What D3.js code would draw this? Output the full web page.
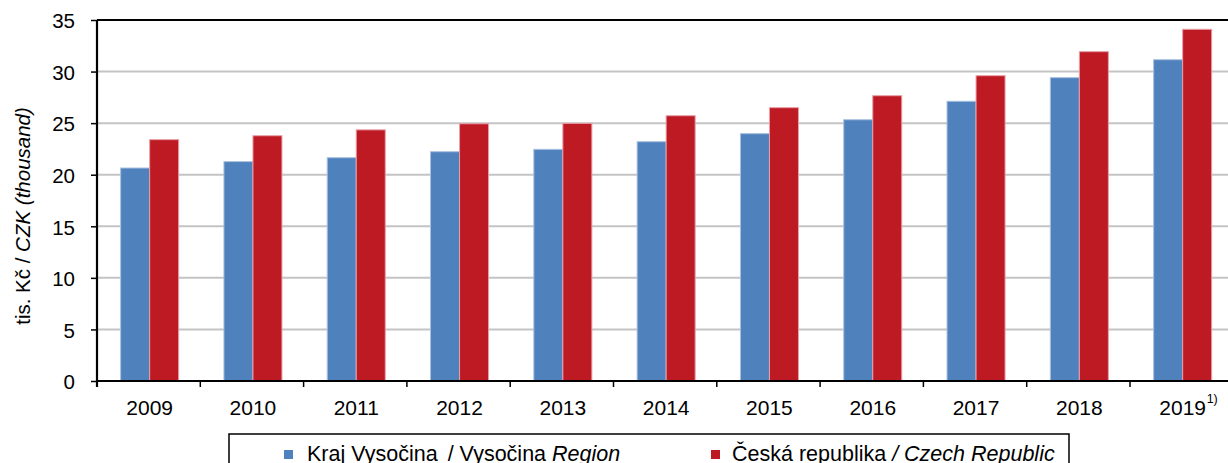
<!DOCTYPE html>
<html lang="cs">
<head>
    <meta charset="UTF-8">
    <title>Průměrná hrubá měsíční mzda</title>
    <script src="https://d3js.org/d3.v7.min.js"></script>
    <style>
        body { margin: 0; background: #fff; }
        svg { display: block; font-family: 'Liberation Sans', Arial, sans-serif; }
        .grid line { stroke: #c4c4c4; stroke-width: 2px; }
    </style>
</head>
<body>
    <svg id="chart" width="1228" height="463"></svg>

    <script>
        // data
        const years = ["2009", "2010", "2011", "2012", "2013", "2014", "2015", "2016", "2017", "2018", "2019"];
        const vysocina = [20.65, 21.27, 21.65, 22.23, 22.46, 23.2, 23.98, 25.33, 27.12, 29.41, 31.15];
        const czech = [23.4, 23.78, 24.35, 24.94, 24.98, 25.72, 26.5, 27.66, 29.6, 31.93, 34.1];
        const yTicks = [0, 5, 10, 15, 20, 25, 30, 35];
        const seriesNames = ["vysocina", "czech"];
        const colors = { vysocina: "#4f81bd", czech: "#be1a24" };
        const strokes = { vysocina: "#a9c0e0", czech: "#e8a0a8" };

        const svg = d3.select("#chart");
        const mLeft = 97, mTop = 20, mBottom = 381, mRight = 97 + 11 * 103.3;

        const x = d3.scaleBand().domain(years).range([mLeft, mRight]).padding(0);
        const xs = d3.scaleBand().domain(seriesNames)
            .range([0, x.bandwidth()]).paddingOuter(0.78).paddingInner(0);
        const y = d3.scaleLinear().domain([0, 35]).range([mBottom, mTop]);

        // gridlines
        svg.append("g").attr("class", "grid")
            .selectAll("line").data(yTicks.filter(d => d > 0 && d < 35))
            .enter().append("line")
            .attr("x1", mLeft).attr("x2", mRight)
            .attr("y1", d => y(d)).attr("y2", d => y(d));

        const rows = years.map((yr, i) => ({ year: yr, vysocina: vysocina[i], czech: czech[i] }));

        const groups = svg.append("g").selectAll("g").data(rows).enter().append("g")
            .attr("transform", d => `translate(${x(d.year) + 1},0)`);
        groups.selectAll("rect")
            .data(d => seriesNames.map(k => ({ key: k, value: d[k] })))
            .enter().append("rect")
            .attr("x", d => xs(d.key))
            .attr("width", xs.bandwidth())
            .attr("y", d => y(d.value))
            .attr("height", d => mBottom - y(d.value))
            .attr("fill", d => colors[d.key])
            .attr("stroke", d => strokes[d.key])
            .attr("stroke-width", 1);

        // top border
        svg.append("line").attr("x1", mLeft).attr("x2", mRight)
            .attr("y1", mTop).attr("y2", mTop)
            .attr("stroke", "#000").attr("stroke-width", 2);

        // y axis
        const yAxis = svg.append("g").attr("transform", `translate(${mLeft},0)`)
            .call(d3.axisLeft(y).tickValues(yTicks).tickSize(6).tickPadding(16).tickFormat(d3.format("d")));
        yAxis.select(".domain").attr("stroke", "#000").attr("stroke-width", 2.2).attr("d", `M0,${mTop}V${mBottom + 6}`);
        yAxis.selectAll(".tick line").attr("stroke", "#000").attr("stroke-width", 1.5);
        yAxis.selectAll(".tick text").attr("font-size", 20.5).attr("fill", "#000")
            .attr("font-family", "'Liberation Sans', Arial, sans-serif").attr("dy", "0.38em");

        // x axis
        const xTickPos = years.map(d => x(d)).concat([mRight]);
        svg.append("line").attr("x1", mLeft).attr("x2", mRight)
            .attr("y1", mBottom).attr("y2", mBottom)
            .attr("stroke", "#000").attr("stroke-width", 2.2);
        svg.append("g").selectAll("line").data(xTickPos).enter().append("line")
            .attr("x1", d => d).attr("x2", d => d)
            .attr("y1", mBottom).attr("y2", mBottom + 6)
            .attr("stroke", "#000").attr("stroke-width", 1.5);
        svg.append("g").selectAll("text").data(years).enter().append("text")
            .attr("x", d => x(d) + x.bandwidth() / 2 + 1)
            .attr("y", 415)
            .attr("text-anchor", "middle")
            .attr("font-size", 21)
            .text(d => d);
        svg.append("text")
            .attr("x", x("2019") + x.bandwidth() / 2 + 25).attr("y", 403)
            .attr("font-size", 12.5).text("1)");

        // y title
        const yt = svg.append("text")
            .attr("transform", "translate(30,216) rotate(-90)")
            .attr("text-anchor", "middle")
            .attr("font-size", 20.5);
        yt.append("tspan").text("tis. Kč / ");
        yt.append("tspan").attr("font-style", "italic").text("CZK (thousand)");

        // legend (bottom part is cut off by the picture edge, as in the original)
        svg.append("rect").attr("x", 229).attr("y", 434).attr("width", 840).attr("height", 60)
            .attr("fill", "none").attr("stroke", "#000").attr("stroke-width", 1.5);
        svg.append("rect").attr("x", 284).attr("y", 450).attr("width", 9).attr("height", 9)
            .attr("fill", colors.vysocina);
        svg.append("rect").attr("x", 711).attr("y", 450).attr("width", 9).attr("height", 9)
            .attr("fill", colors.czech);
        const l1 = svg.append("text").attr("x", 307).attr("y", 461).attr("font-size", 21.5);
        l1.append("tspan").text("Kraj Vysočina");
        l1.append("tspan").attr("dx", 10).text("/ Vysočina ");
        l1.append("tspan").attr("font-style", "italic").text("Region");
        const l2 = svg.append("text").attr("x", 732).attr("y", 461).attr("font-size", 21.5);
        l2.append("tspan").text("Česká republika ");
        l2.append("tspan").attr("font-style", "italic").text("/ Czech Republic");
    </script>
</body>
</html>
